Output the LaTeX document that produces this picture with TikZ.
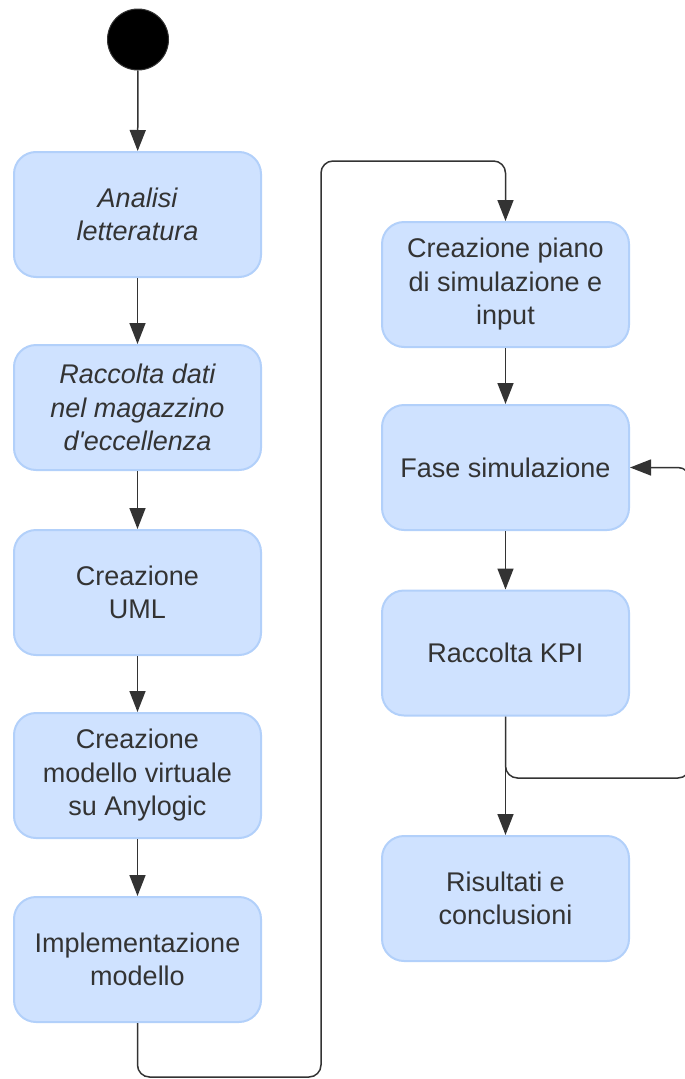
\documentclass[tikz,border=0pt]{standalone}
\usepackage{fontspec}
\setmainfont{Liberation Sans}
\usetikzlibrary{arrows.meta}
\definecolor{boxfill}{HTML}{CFE2FF}
\definecolor{boxline}{HTML}{B2D0FA}
\definecolor{ink}{HTML}{333333}
\tikzset{
  activity/.style={draw=boxline, fill=boxfill, line width=2pt, rounded corners=22pt,
    minimum width=247pt, minimum height=125pt, align=center, text=ink,
    font=\fontsize{27}{33.5}\selectfont, inner sep=0pt},
  startdot/.style={circle, fill=black, draw=ink, line width=1pt, minimum size=61pt, inner sep=0pt},
  flow/.style={draw=ink, line width=1.5pt, rounded corners=12pt,
    -{Triangle[length=21pt,width=16pt]}}
}
\begin{document}
\begin{tikzpicture}[x=1pt,y=-1pt]
\useasboundingbox (0,0) rectangle (685,1079);

% initial state
\node[startdot] (start) at (138,39.5) {};

% left column
\node[activity] (a1) at (137.5,214.5) {\itshape Analisi\\\itshape letteratura};
\node[activity] (a2) at (137.5,407.5) {\itshape Raccolta dati\\\itshape nel magazzino\\\itshape d\textquotesingle eccellenza};
\node[activity] (a3) at (137.5,592.5) {Creazione\\UML};
\node[activity] (a4) at (137.5,775.5) {Creazione\\modello virtuale\\su Anylogic};
\node[activity] (a5) at (137.5,959.5) {Implementazione\\modello};

% right column
\node[activity] (b1) at (505.5,284.5) {Creazione piano\\di simulazione e\\input};
\node[activity] (b2) at (505.5,467.5) {Fase simulazione};
\node[activity] (b3) at (505.5,653) {Raccolta KPI};
\node[activity] (b4) at (505.5,898.5) {Risultati e\\conclusioni};

% routing points
\coordinate (jumpBottom) at (321,1077);
\coordinate (jumpTop) at (321,161);
\coordinate (loopCorner) at (690,778);

% left column flow
\draw[flow] (start) -- (a1);
\draw[flow] (a1) -- (a2);
\draw[flow] (a2) -- (a3);
\draw[flow] (a3) -- (a4);
\draw[flow] (a4) -- (a5);

% jump to the right column
\draw[flow] (a5.south) |- (jumpBottom) -- (jumpTop) -| (b1.north);

% right column flow
\draw[flow] (b1) -- (b2);
\draw[flow] (b2) -- (b3);
\draw[flow] (b3) -- (b4);

% repeat loop back to the simulation
\draw[flow] (b3.south) |- (loopCorner) |- (b2.east);
\end{tikzpicture}
\end{document}
